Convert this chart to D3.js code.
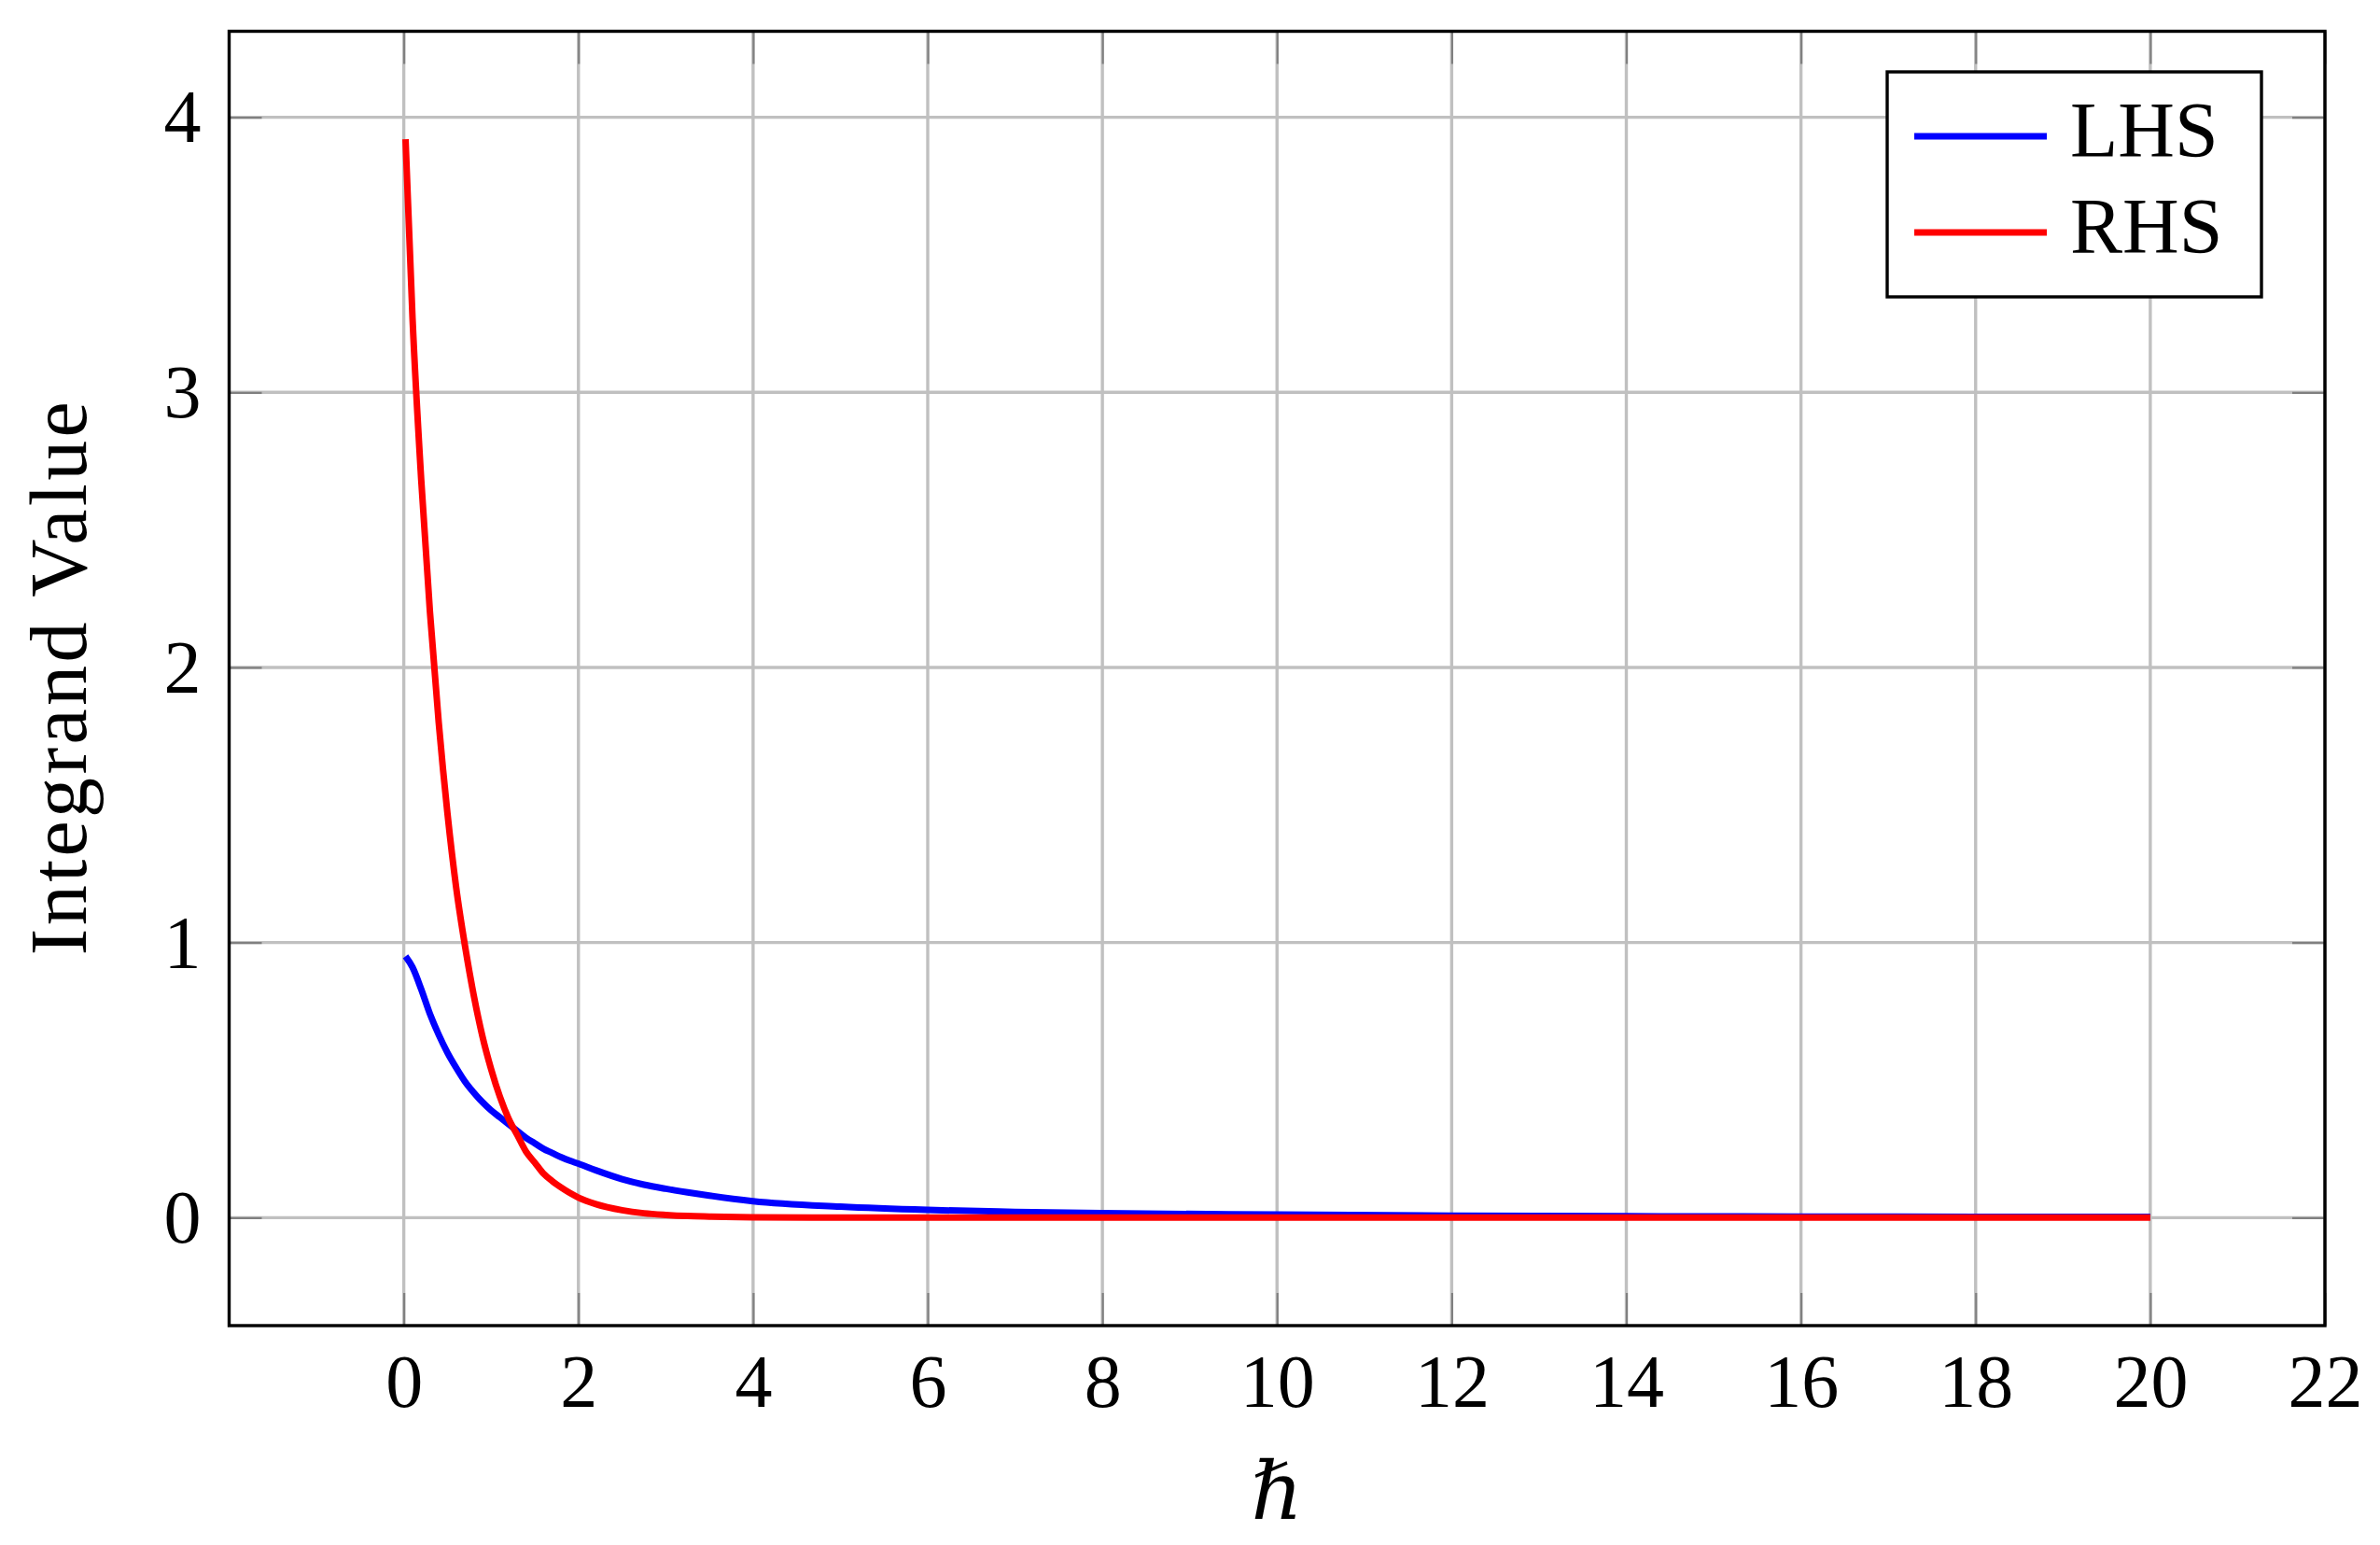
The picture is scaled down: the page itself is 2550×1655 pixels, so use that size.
<!DOCTYPE html>
<html>
<head>
<meta charset="utf-8">
<script src="https://cdnjs.cloudflare.com/ajax/libs/d3/7.8.5/d3.min.js"></script>
<style>
  html, body { margin: 0; padding: 0; background: #fff; }
  svg { display: block; font-family: 'Liberation Serif', 'DejaVu Serif', serif; }
</style>
</head>
<body>
<div class="chart"></div>
<script>
// values
let hbar = [0.02, 0.1, 0.2, 0.3, 0.4, 0.5, 0.6, 0.7, 0.8, 0.9, 1.0, 1.1, 1.2, 1.3, 1.4, 1.5, 1.6, 1.7, 1.8, 1.9, 2.0,
	2.2, 2.5, 2.75, 3.0, 3.25, 3.5, 4.0, 5.0, 6.0, 7.0, 8.0, 10, 12, 14, 16, 18, 20]
let lhsValues = [0.95, 0.91, 0.83, 0.74, 0.665, 0.60, 0.545, 0.495, 0.455, 0.42, 0.39, 0.365, 0.34, 0.315, 0.29, 0.27,
	0.25, 0.235, 0.22, 0.207, 0.196, 0.172, 0.14, 0.12, 0.105, 0.092, 0.08, 0.06, 0.04, 0.028, 0.021, 0.016,
	0.011, 0.007, 0.005, 0.004, 0.003, 0.0025]
let rhsValues = [3.92, 3.27, 2.68, 2.2, 1.8, 1.47, 1.2, 0.99, 0.81, 0.66, 0.54, 0.44, 0.36, 0.30, 0.24, 0.20,
	0.16, 0.133, 0.11, 0.09, 0.073, 0.049, 0.027, 0.016, 0.01, 0.006, 0.004, 0.0013, 0, 0, 0, 0,
	0, 0, 0, 0, 0, 0]
let seriesNames = ['LHS', 'RHS']
let seriesColors = ['#0000ff', '#ff0000']
let xTicks = [0, 2, 4, 6, 8, 10, 12, 14, 16, 18, 20, 22]
let yTicks = [0, 1, 2, 3, 4]

const width = 2550
const height = 1655
const plotLeft = 245.5, plotRight = 2491, plotTop = 33.5, plotBottom = 1420

let svg = d3.select('.chart')
	.append('svg')
	.attr('width', width)
	.attr('height', height)

let x = d3.scaleLinear().domain([-2, 22]).range([plotLeft, plotRight])
let y = d3.scaleLinear().domain([-0.3925, 4.3125]).range([plotBottom, plotTop])

// grid
svg.append('g')
	.selectAll('line')
	.data(xTicks)
	.enter().append('line')
	.attr('x1', (d) => x(d)).attr('x2', (d) => x(d))
	.attr('y1', plotTop).attr('y2', plotBottom)
	.attr('stroke', '#c0c0c0')
	.attr('stroke-width', 3.4)

svg.append('g')
	.selectAll('line')
	.data(yTicks)
	.enter().append('line')
	.attr('x1', plotLeft).attr('x2', plotRight)
	.attr('y1', (d) => y(d)).attr('y2', (d) => y(d))
	.attr('stroke', '#c0c0c0')
	.attr('stroke-width', 3.4)

// axes, ticks pointing inside on all four sides
let tickLen = -35
let axisStyle = (g) => {
	g.select('.domain').remove()
	g.selectAll('.tick line').attr('stroke', '#808080').attr('stroke-width', 2.2)
	g.selectAll('.tick text')
		.attr('font-family', 'Liberation Serif, DejaVu Serif, serif')
		.attr('font-size', 80)
		.attr('fill', '#000')
}

svg.append('g')
	.attr('transform', 'translate(0,' + plotBottom + ')')
	.call(d3.axisBottom(x).tickValues(xTicks).tickSize(tickLen).tickPadding(0))
	.call(axisStyle)
	.selectAll('.tick text')
	.attr('dy', null)
	.attr('y', 87)

svg.append('g')
	.attr('transform', 'translate(0,' + plotTop + ')')
	.call(d3.axisTop(x).tickValues(xTicks).tickSize(tickLen).tickFormat(''))
	.call(axisStyle)

svg.append('g')
	.attr('transform', 'translate(' + plotLeft + ',0)')
	.call(d3.axisLeft(y).tickValues(yTicks).tickSize(tickLen).tickFormat(d3.format('d')))
	.call(axisStyle)
	.selectAll('.tick text')
	.attr('x', -30)
	.attr('dy', '0.33em')

svg.append('g')
	.attr('transform', 'translate(' + plotRight + ',0)')
	.call(d3.axisRight(y).tickValues(yTicks).tickSize(tickLen).tickFormat(''))
	.call(axisStyle)

// curves
let line = d3.line()
	.curve(d3.curveMonotoneX)
	.x((d) => x(d[0]))
	.y((d) => y(d[1]))

let series = [lhsValues, rhsValues]
series.forEach((vals, i) => {
	svg.append('path')
		.datum(hbar.map((h, j) => [h, vals[j]]))
		.attr('fill', 'none')
		.attr('stroke', seriesColors[i])
		.attr('stroke-width', 7)
		.attr('stroke-linejoin', 'round')
		.attr('d', line)
})

// frame
svg.append('rect')
	.attr('x', plotLeft).attr('y', plotTop)
	.attr('width', plotRight - plotLeft).attr('height', plotBottom - plotTop)
	.attr('fill', 'none')
	.attr('stroke', '#000')
	.attr('stroke-width', 3.4)

// legend
let legend = svg.append('g')
legend.append('rect')
	.attr('x', 2022).attr('y', 77)
	.attr('width', 401).attr('height', 241)
	.attr('fill', '#fff')
	.attr('stroke', '#000')
	.attr('stroke-width', 3.4)

let item = legend.selectAll('.legend-item')
	.data(seriesNames)
	.enter().append('g')
	.attr('class', 'legend-item')
	.attr('transform', (d, i) => 'translate(0,' + (146 + i * 103) + ')')

item.append('line')
	.attr('x1', 2051).attr('x2', 2193)
	.attr('stroke', (d, i) => seriesColors[i])
	.attr('stroke-width', 7)

item.append('text')
	.attr('x', 2218)
	.attr('y', 22)
	.attr('font-size', 84)
	.text((d) => d)

// axis titles
svg.append('text')
	.attr('x', (plotLeft + plotRight) / 2)
	.attr('y', 1627)
	.attr('text-anchor', 'middle')
	.attr('font-size', 86)
	.attr('font-style', 'italic')
	.text('\u210F')

svg.append('text')
	.attr('transform', 'translate(92,' + ((plotTop + plotBottom) / 2) + ') rotate(-90)')
	.attr('text-anchor', 'middle')
	.attr('font-size', 86)
	.attr('textLength', 593)
	.attr('lengthAdjust', 'spacing')
	.text('Integrand Value')
</script>
</body>
</html>
